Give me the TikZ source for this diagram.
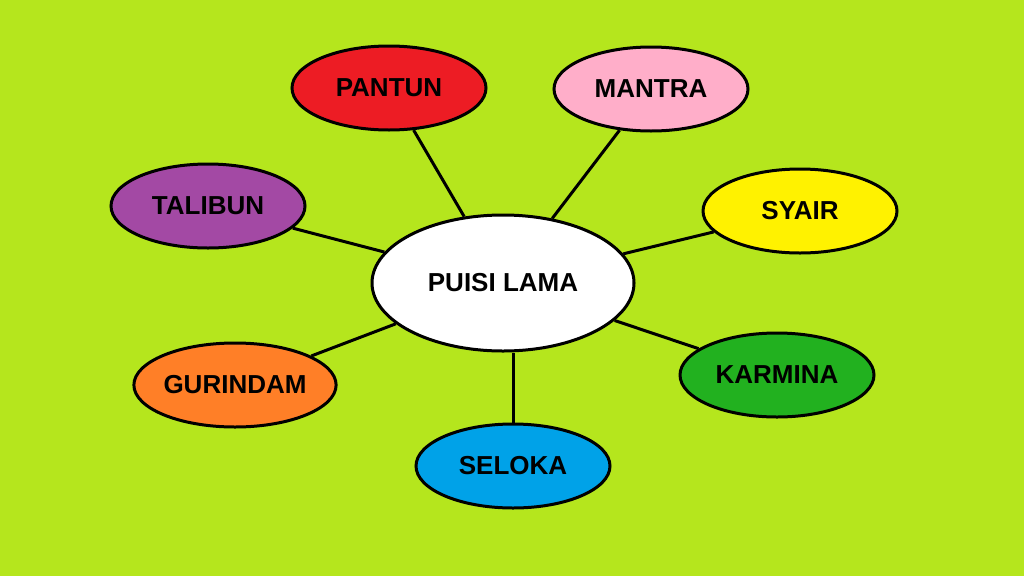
\documentclass[tikz,border=0pt]{standalone}
\usepackage{fontspec}
\setmainfont{Liberation Sans}
\usetikzlibrary{shapes.geometric}
\definecolor{bgGreen}{HTML}{B5E61D}
\definecolor{cRed}{HTML}{ED1C24}
\definecolor{cPink}{HTML}{FFAEC9}
\definecolor{cPurple}{HTML}{A349A4}
\definecolor{cYellow}{HTML}{FFF200}
\definecolor{cOrange}{HTML}{FF7F27}
\definecolor{cGreen}{HTML}{22B11F}
\definecolor{cBlue}{HTML}{00A2E8}
\tikzset{
  bubble/.style={ellipse, draw=black, line width=3pt, minimum width=194pt, minimum height=84pt,
    inner sep=0pt, font=\fontsize{26}{30}\selectfont\bfseries},
  hub/.style={bubble, fill=white, minimum width=262pt, minimum height=136pt},
  spoke/.style={line width=3pt}
}
\begin{document}
\begin{tikzpicture}[x=1pt, y=-1pt]
    % background
    \fill[bgGreen] (0,0) rectangle (1024,576);
    \useasboundingbox (0,0) rectangle (1024,576);
    % centre
    \node[hub] (puisi) at (503,283) {PUISI LAMA};
    % kinds
    \node[bubble, fill=cRed] (pantun) at (389,88) {PANTUN};
    \node[bubble, fill=cPink] (mantra) at (651,89) {MANTRA};
    \node[bubble, fill=cPurple] (talibun) at (208,206) {TALIBUN};
    \node[bubble, fill=cYellow] (syair) at (800,211) {SYAIR};
    \node[bubble, fill=cOrange] (gurindam) at (235,385) {GURINDAM};
    \node[bubble, fill=cGreen] (karmina) at (777,375) {KARMINA};
    \node[bubble, fill=cBlue] (seloka) at (513,466) {SELOKA};
    % spokes
    \foreach \n in {pantun,mantra,talibun,syair,gurindam,karmina}
        \draw[spoke] (puisi) -- (\n);
    \draw[spoke] (seloka.north) -- (seloka.north |- puisi.south);
\end{tikzpicture}
\end{document}
